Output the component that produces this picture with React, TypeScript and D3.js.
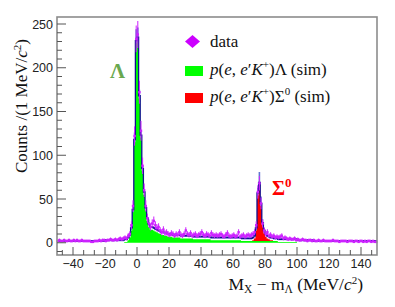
import React from "react";
import * as d3 from "d3";

// 1 MeV bins, first bin low edge at -50 MeV
const X_MIN = -50;
const dataCounts = [
  2, 3, 2, 2, 3, 2, 2, 3, 2, 2,
  3, 2, 3, 2, 2, 3, 2, 2, 2, 2,
  2, 1, 1, 2, 2, 2, 3, 2, 3, 3,
  2, 3, 3, 4, 3, 3, 4, 3, 4, 5,
  4, 5, 6, 5, 8, 10, 20, 42, 122, 233,
  238, 172, 128, 88, 60, 42, 28, 22, 18, 22,
  25, 20, 17, 18, 14, 12, 15, 11, 12, 10,
  9, 11, 10, 8, 10, 9, 12, 9, 8, 10,
  14, 10, 9, 11, 8, 9, 10, 8, 9, 10,
  12, 9, 8, 10, 9, 8, 11, 9, 8, 9,
  8, 9, 10, 8, 7, 9, 11, 8, 7, 8,
  9, 7, 8, 12, 7, 8, 9, 7, 8, 9,
  8, 9, 10, 12, 20, 58, 68, 45, 22, 14,
  10, 12, 8, 9, 7, 8, 6, 7, 6, 7,
  8, 5, 6, 5, 4, 5, 4, 4, 5, 3,
  4, 3, 3, 4, 3, 3, 2, 3, 3, 2,
  3, 2, 2, 3, 2, 2, 3, 2, 2, 2,
  2, 2, 3, 2, 2, 2, 1, 2, 2, 2,
  2, 1, 2, 2, 2, 1, 2, 2, 1, 2,
  2, 1, 2, 1, 2, 2, 1, 2, 1, 1,
];

// p(e,e'K+)Lambda simulation, starting at -10 MeV
const lambdaStart = -10;
const lambdaSim = [
  0, 0, 1, 1, 3, 6, 14, 35, 115, 228,
  232, 165, 120, 82, 55, 37, 25, 18, 15, 15,
  14, 13, 12, 11, 10, 9, 9, 8, 8, 7,
  7, 7, 6, 6, 6, 6, 6, 5, 5, 5,
  5, 5, 5, 5, 5, 4, 4, 4, 4, 4,
  4, 4, 4, 4, 4, 4, 3, 3, 3, 3,
  3, 3, 3, 3, 3, 3, 3, 3, 3, 3,
  3, 3, 3, 3, 3, 2, 2, 2, 2, 2,
  2, 2, 2, 2, 2, 2, 2, 2, 2, 2,
  2, 2, 2, 2, 2, 2, 2, 2, 1, 1,
  1, 1, 1, 1, 1, 1, 1, 1, 1, 1,
];

// p(e,e'K+)Sigma0 simulation, starting at 70 MeV
const sigmaStart = 70;
const sigmaSim = [0, 0, 1, 3, 12, 52, 64, 40, 18, 9, 5, 3, 2, 1, 1];

// accidental background, one level per 10 MeV
const bgLevels = [2, 2, 2, 3, 3, 3, 3, 3, 3, 3, 3, 3, 3, 3, 3, 3, 2, 2, 2, 2];

// uncertainty band half-widths of the total
const lambdaBandStart = -4;
const lambdaBand = [2, 4, 8, 13, 11, 7, 5, 3];
const sigmaBandStart = 74;
const sigmaBand = [3, 6, 12, 8, 4, 3];

const xTicks = [-40, -20, 0, 20, 40, 60, 80, 100, 120, 140];
const yTicks = [0, 50, 100, 150, 200, 250];

const W = 395;
const H = 307;
const frame = { left: 57, right: 377, top: 17, bottom: 255 };

const valueAt = (arr: number[], start: number, lo: number) => {
  const i = lo - start;
  return i >= 0 && i < arr.length ? arr[i] : 0;
};

export default function App() {
  const x = d3.scaleLinear().domain([-50, 150]).range([frame.left, frame.right]);
  const y = d3.scaleLinear().domain([-14, 258]).range([frame.bottom, frame.top]);

  const rows = dataCounts.map((n, i) => {
    const lo = X_MIN + i;
    const lam = valueAt(lambdaSim, lambdaStart, lo);
    const sig = valueAt(sigmaSim, sigmaStart, lo);
    const bg = bgLevels[Math.floor(i / 10)];
    const band =
      valueAt(lambdaBand, lambdaBandStart, lo) || valueAt(sigmaBand, sigmaBandStart, lo) || 1.2;
    return { lo, n, lam, sig, total: lam + sig + bg, band };
  });
  const pts = [...rows, { ...rows[rows.length - 1], lo: rows[rows.length - 1].lo + 1 }];

  const greenArea = d3
    .area<(typeof pts)[number]>()
    .x((d) => x(d.lo))
    .y0(y(0))
    .y1((d) => y(d.lam))
    .curve(d3.curveStepAfter);

  const sigPts = pts.filter((d) => d.lo >= sigmaStart && d.lo <= sigmaStart + sigmaSim.length);
  const redArea = d3
    .area<(typeof pts)[number]>()
    .x((d) => x(d.lo))
    .y0((d) => y(d.lam))
    .y1((d) => y(d.lam + d.sig))
    .curve(d3.curveStepAfter);

  const bandArea = d3
    .area<(typeof pts)[number]>()
    .x((d) => x(d.lo))
    .y0((d) => y(d.total - d.band))
    .y1((d) => y(d.total + d.band))
    .curve(d3.curveStepAfter);

  const totalLine = d3
    .line<(typeof pts)[number]>()
    .x((d) => x(d.lo))
    .y((d) => y(d.total))
    .curve(d3.curveStepAfter);

  const minorX: number[] = [];
  xTicks.forEach((t) => [-1, 1, 2].forEach((k) => {
    const v = t + (k * 20) / 3;
    if (v > -50 && v < 150 && !minorX.some((m) => Math.abs(m - v) < 0.01)) minorX.push(v);
  }));
  const minorY = d3.range(-10, 258, 10).filter((v) => v % 50 !== 0);

  const magenta = "#cc22ff";
  const serif = "Liberation Serif, Times New Roman, serif";
  const sans = "Liberation Sans, Arial, sans-serif";

  return (
    <svg width={W} height={H} style={{ position: "absolute", left: 0, top: 0, background: "#fff" }}>
      {/* band, fills, total line */}
      <path d={bandArea(pts) ?? ""} fill="#6474cf" />
      <path d={greenArea(pts) ?? ""} fill="#00ff00" />
      <path d={redArea(sigPts) ?? ""} fill="#ff0000" />
      <path d={totalLine(pts) ?? ""} fill="none" stroke="#101090" strokeWidth={1.3} />

      {/* data with errors */}
      <g stroke={magenta} strokeWidth={1}>
        {rows.map((d) => {
          const cx = x(d.lo + 0.5);
          const err = Math.sqrt(d.n);
          return (
            <g key={d.lo}>
              <line x1={x(d.lo)} x2={x(d.lo + 1)} y1={y(d.n)} y2={y(d.n)} />
              <line x1={cx} x2={cx} y1={y(d.n - err)} y2={y(d.n + err)} />
            </g>
          );
        })}
      </g>
      <g fill={magenta}>
        {rows.map((d) => (
          <rect key={d.lo} x={x(d.lo + 0.5) - 1.2} y={y(d.n) - 1.2} width={2.4} height={2.4} />
        ))}
      </g>

      {/* frame */}
      <rect
        x={frame.left}
        y={frame.top}
        width={frame.right - frame.left}
        height={frame.bottom - frame.top}
        fill="none"
        stroke="#8c8c8c"
        strokeWidth={1.6}
      />

      {/* y axis */}
      <g stroke="#555" strokeWidth={1}>
        {yTicks.map((t) => (
          <line key={t} x1={frame.left} x2={frame.left + 9} y1={y(t)} y2={y(t)} />
        ))}
        {minorY.map((t) => (
          <line key={t} x1={frame.left} x2={frame.left + 5} y1={y(t)} y2={y(t)} />
        ))}
      </g>
      <g fontFamily={sans} fontSize={12.5} fill="#222" textAnchor="end">
        {yTicks.map((t) => (
          <text key={t} x={frame.left - 4} y={y(t) + 4.5}>
            {t}
          </text>
        ))}
      </g>

      {/* x axis */}
      <g stroke="#555" strokeWidth={1}>
        {xTicks.map((t) => (
          <line key={t} x1={x(t)} x2={x(t)} y1={frame.bottom} y2={frame.bottom - 8} />
        ))}
        {minorX.map((t) => (
          <line key={t} x1={x(t)} x2={x(t)} y1={frame.bottom} y2={frame.bottom - 5} />
        ))}
      </g>
      <g fontFamily={sans} fontSize={12.5} fill="#222" textAnchor="middle">
        {xTicks.map((t) => (
          <text key={t} x={x(t)} y={268}>
            {t < 0 ? `\u2212${-t}` : t}
          </text>
        ))}
      </g>

      {/* axis titles */}
      <text
        transform="translate(27,106) rotate(-90)"
        textAnchor="middle"
        fontFamily={serif}
        fontSize={17}
        fill="#111"
      >
        Counts /(1 MeV/<tspan fontStyle="italic">c</tspan>
        <tspan fontSize={11} dy={-6}>2</tspan>
        <tspan dy={6}>)</tspan>
      </text>
      <text x={frame.right - 14} y={290} textAnchor="end" fontFamily={serif} fontSize={17.5} fill="#111">
        M<tspan fontSize={11.5} dy={3}>X</tspan>
        <tspan dy={-3}> {"\u2212"} m</tspan>
        <tspan fontSize={11.5} dy={3}>{"\u039b"}</tspan>
        <tspan dy={-3}> (MeV/</tspan>
        <tspan fontStyle="italic">c</tspan>
        <tspan fontSize={11} dy={-6}>2</tspan>
        <tspan dy={6}>)</tspan>
      </text>

      {/* peak labels */}
      <text x={110} y={78} fontFamily={serif} fontWeight="bold" fontSize={21} fill="#6aa84f">
        {"\u039b"}
      </text>
      <text x={272} y={195} fontFamily={serif} fontWeight="bold" fontSize={20} fill="#ff0000">
        {"\u03a3"}
        <tspan fontSize={13} dy={-8}>0</tspan>
      </text>

      {/* legend */}
      <path d="M192.5,35 L200,41.5 L192.5,48 L185,41.5 Z" fill="#cc00ff" />
      <rect x={185} y={66} width={18} height={10} fill="#00ff00" />
      <rect x={185} y={93} width={18} height={10} fill="#ff0000" />
      <g fontFamily={serif} fontSize={17} fill="#111">
        <text x={210} y={47}>data</text>
        <text x={210} y={75}>
          <tspan fontStyle="italic">p</tspan>(<tspan fontStyle="italic">e</tspan>,{" "}
          <tspan fontStyle="italic">e</tspan>{"\u2032"}
          <tspan fontStyle="italic">K</tspan>
          <tspan fontSize={11} dy={-7}>+</tspan>
          <tspan dy={7}>){"\u039b"} (sim)</tspan>
        </text>
        <text x={210} y={102}>
          <tspan fontStyle="italic">p</tspan>(<tspan fontStyle="italic">e</tspan>,{" "}
          <tspan fontStyle="italic">e</tspan>{"\u2032"}
          <tspan fontStyle="italic">K</tspan>
          <tspan fontSize={11} dy={-7}>+</tspan>
          <tspan dy={7}>){"\u03a3"}</tspan>
          <tspan fontSize={11} dy={-7}>0</tspan>
          <tspan dy={7}> (sim)</tspan>
        </text>
      </g>
    </svg>
  );
}
